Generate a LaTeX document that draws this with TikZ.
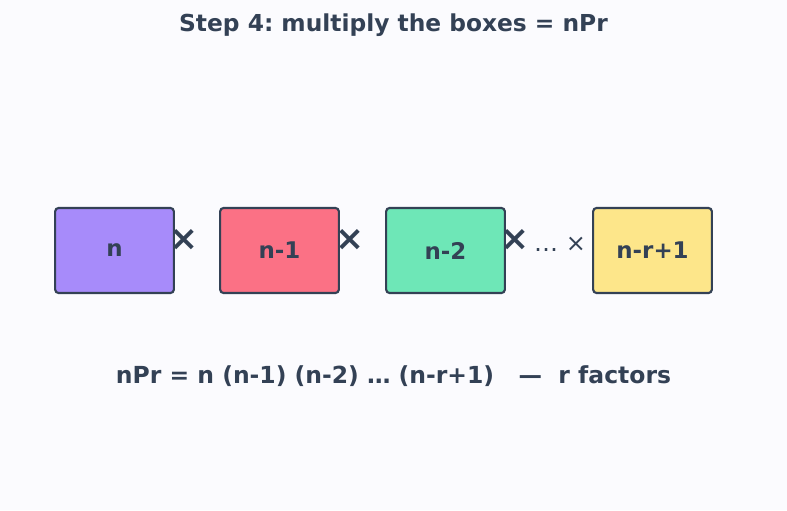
\documentclass[tikz,border=0pt]{standalone}
\usepackage{fontspec}
\setmainfont{DejaVu Sans}
\frenchspacing
\definecolor{bg}{HTML}{FBFBFE}
\definecolor{ink}{HTML}{334155}
\definecolor{cpurple}{HTML}{A78BFA}
\definecolor{cred}{HTML}{FB7185}
\definecolor{cgreen}{HTML}{6EE7B7}
\definecolor{cyellow}{HTML}{FDE68A}
\begin{document}
\begin{tikzpicture}[x=0.75pt,y=-0.75pt,
  factor/.style={draw=ink,line width=1.6pt,rounded corners=2.5pt,minimum width=89pt,minimum height=63.75pt,inner sep=0pt,text=ink,font=\bfseries\fontsize{17.2}{20}\selectfont},
  times/.style={text=ink,font=\bfseries\fontsize{26}{28}\selectfont,inner sep=0pt},
  lbl/.style={text=ink,inner sep=0pt}]
\fill[bg] (0,0) rectangle (787,510);
\useasboundingbox (0,0) rectangle (787,510);
\node[lbl,font=\bfseries\fontsize{17.5}{20}\selectfont] (title) at (393.5,25) {Step 4: multiply the boxes = nPr};
\node[factor,fill=cpurple] (b1) at (114.5,250.5) {n};
\node[factor,fill=cred] (b2) at (279.5,250.5) {n-1};
\node[factor,fill=cgreen] (b3) at (445.5,250.5) {n-2};
\node[factor,fill=cyellow] (b4) at (652.5,250.5) {n-r+1};
\node[times] (t1) at (184,240) {×};
\node[times] (t2) at (350,240) {×};
\node[times] (t3) at (515,240) {×};
\node[lbl,font=\fontsize{18}{20}\selectfont] (dots) at (560,244) {…\ ×};
\node[lbl,font=\bfseries\fontsize{17.6}{20}\selectfont] (formula) at (393.5,376) {nPr = n (n-1) (n-2) … (n-r+1)\ \ \ —\ \ r factors};
\end{tikzpicture}
\end{document}
